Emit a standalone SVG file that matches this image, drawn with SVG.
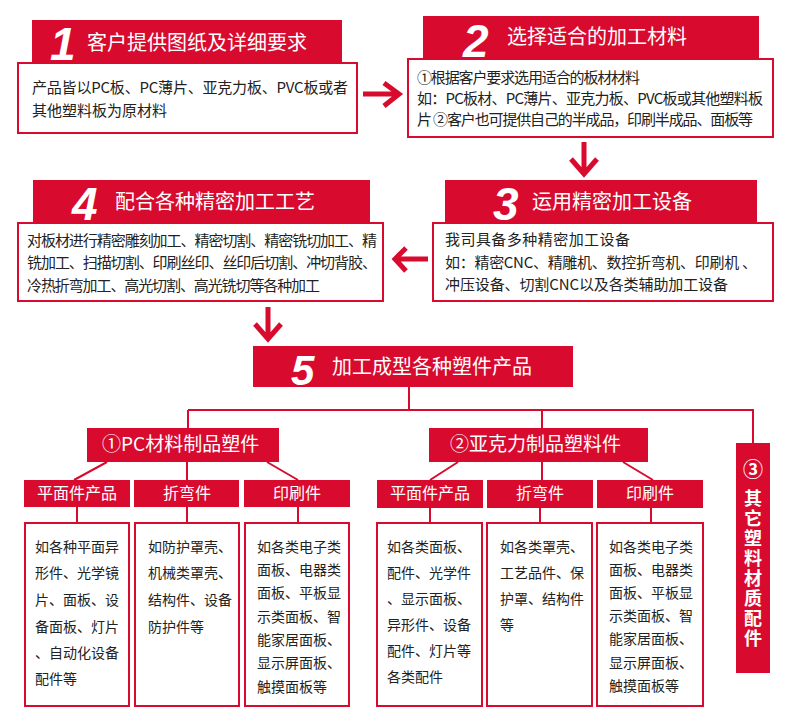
<svg xmlns="http://www.w3.org/2000/svg" width="790" height="721" viewBox="0 0 790 721">
<style>
.hd{fill:#d80b2f}
.bx{fill:#fff;stroke:#d80b2f;stroke-width:2}
.num{font-family:"Liberation Sans",Arial,sans-serif;font-weight:bold;font-style:italic;fill:#fff;font-size:46px}
.ht{font-family:"Noto Sans CJK SC","Noto Sans",sans-serif;fill:#fff;font-size:20px}
.st{font-family:"Noto Sans CJK SC","Noto Sans",sans-serif;fill:#fff;font-size:19px}
.vt{font-family:"Noto Sans CJK SC","Noto Sans",sans-serif;fill:#fff;font-size:18px;font-weight:bold}
.lt{font-family:"Noto Sans CJK SC","Noto Sans",sans-serif;fill:#fff;font-size:16px;text-anchor:middle}
.bt{font-family:"Noto Sans CJK SC","Noto Sans",sans-serif;fill:#222;font-size:15px}
.ct{font-family:"Noto Sans CJK SC","Noto Sans",sans-serif;fill:#222;font-size:14px}
.ln{stroke:#d80b2f;stroke-width:2;fill:none}
.ar{stroke:#d80b2f;stroke-width:5;fill:none}
</style>
<rect width="790" height="721" fill="#fff"/>
<g id="connectors">
<path class="ar" d="M363 94H399M384 83L399 94L384 106"/>
<path class="ar" d="M584 142V174M571 159L584 174L597 159"/>
<path class="ar" d="M428 259H395M406 248L395 259L406 271"/>
<path class="ar" d="M268 307V339M255 324L268 339L281 324"/>
<path class="ln" d="M409 387V410M188 410H753V443M188 410V428M542 410V428"/>
<path class="ln" d="M107 462L74 480M187 462V480M267 462L298 480"/>
<path class="ln" d="M458 462L430 480M542 462V480M623 462L653 480"/>
<path class="ln" d="M77 507V523M187 507V523M298 507V523M430 507V523M540 507V523M651 507V523"/>
</g>
<g id="step1">
<rect class="hd" x="32" y="20" width="310" height="42"/>
<rect class="bx" x="18" y="63" width="339" height="70"/>
<text class="num" x="50" y="60">1</text>
<text class="ht" x="87" y="50">客户提供图纸及详细要求</text>
<text class="bt" x="32" y="93" textLength="316">产品皆以PC板、PC薄片、亚克力板、PVC板或者</text>
<text class="bt" x="32" y="116">其他塑料板为原材料</text>
</g>
<g id="step2">
<rect class="hd" x="423" y="16" width="336" height="42"/>
<rect class="bx" x="408" y="59" width="365" height="78"/>
<text class="num" x="463" y="57">2</text>
<text class="ht" x="507" y="44">选择适合的加工材料</text>
<text class="bt" x="417" y="83" textLength="223">①根据客户要求选用适合的板材材料</text>
<text class="bt" x="417" y="104" textLength="346">如：PC板材、PC薄片、亚克力板、PVC板或其他塑料板</text>
<text class="bt" x="417" y="125" textLength="336">片 ②客户也可提供自己的半成品，印刷半成品、面板等</text>
</g>
<g id="step3">
<rect class="hd" x="445" y="180" width="312" height="43"/>
<rect class="bx" x="433" y="223" width="340" height="78"/>
<text class="num" x="493" y="220">3</text>
<text class="ht" x="532" y="209">运用精密加工设备</text>
<text class="bt" x="445" y="245" textLength="185">我司具备多种精密加工设备</text>
<text class="bt" x="445" y="268" textLength="312">如：精密CNC、精雕机、数控折弯机、印刷机 、</text>
<text class="bt" x="445" y="290" textLength="283">冲压设备、切割CNC以及各类辅助加工设备</text>
</g>
<g id="step4">
<rect class="hd" x="33" y="180" width="337" height="43"/>
<rect class="bx" x="18" y="223" width="365" height="78"/>
<text class="num" x="72" y="220">4</text>
<text class="ht" x="115" y="209">配合各种精密加工工艺</text>
<text class="bt" x="27" y="246" textLength="350">对板材进行精密雕刻加工、精密切割、精密铣切加工、精</text>
<text class="bt" x="27" y="268" textLength="350">铣加工、扫描切割、印刷丝印、丝印后切割、冲切背胶、</text>
<text class="bt" x="27" y="291" textLength="293">冷热折弯加工、高光切割、高光铣切等各种加工</text>
</g>
<g id="step5">
<rect class="hd" x="253" y="346" width="320" height="41"/>
<text class="num" x="291" y="385" style="font-size:42px">5</text>
<text class="ht" x="332" y="374">加工成型各种塑件产品</text>
</g>
<g id="pc">
<rect class="hd" x="87" y="428" width="192" height="34"/>
<text class="st" x="102" y="451">①PC材料制品塑件</text>
</g>
<g id="acrylic">
<rect class="hd" x="429" y="428" width="219" height="34"/>
<text class="st" x="450" y="451">②亚克力制品塑料件</text>
</g>
<g id="other">
<rect class="hd" x="736" y="443" width="34" height="230"/>
<text class="vt" x="753" y="477" style="font-size:20px;text-anchor:middle">③</text>
<text class="vt" x="753" y="489" writing-mode="vertical-rl" style="letter-spacing:2px">其它塑料材质配件</text>
</g>
<g id="pc-flat">
<rect class="hd" x="24" y="480" width="106" height="27"/>
<text class="lt" x="77" y="499">平面件产品</text>
<rect class="bx" x="25" y="523" width="104" height="183"/>
<text class="ct"><tspan x="35" y="552">如各种平面异</tspan><tspan x="35" y="578">形件、光学镜</tspan><tspan x="35" y="605">片、面板、设</tspan><tspan x="35" y="632">备面板、灯片</tspan><tspan x="35" y="658">、自动化设备</tspan><tspan x="35" y="684">配件等</tspan></text>
</g>
<g id="pc-bend">
<rect class="hd" x="134" y="480" width="105" height="27"/>
<text class="lt" x="187" y="499">折弯件</text>
<rect class="bx" x="135" y="523" width="104" height="183"/>
<text class="ct"><tspan x="148" y="552">如防护罩壳、</tspan><tspan x="148" y="578">机械类罩壳、</tspan><tspan x="148" y="605">结构件、设备</tspan><tspan x="148" y="632">防护件等</tspan></text>
</g>
<g id="pc-print">
<rect class="hd" x="244" y="480" width="106" height="27"/>
<text class="lt" x="297" y="499">印刷件</text>
<rect class="bx" x="245" y="523" width="104" height="183"/>
<text class="ct"><tspan x="257" y="552">如各类电子类</tspan><tspan x="257" y="575">面板、电器类</tspan><tspan x="257" y="598">面板、平板显</tspan><tspan x="257" y="622">示类面板、智</tspan><tspan x="257" y="645">能家居面板、</tspan><tspan x="257" y="668">显示屏面板、</tspan><tspan x="257" y="692">触摸面板等</tspan></text>
</g>
<g id="ac-flat">
<rect class="hd" x="377" y="480" width="106" height="28"/>
<text class="lt" x="430" y="499">平面件产品</text>
<rect class="bx" x="377" y="523" width="105" height="183"/>
<text class="ct"><tspan x="387" y="552">如各类面板、</tspan><tspan x="387" y="578">配件、光学件</tspan><tspan x="387" y="604">、显示面板、</tspan><tspan x="387" y="630">异形件、设备</tspan><tspan x="387" y="656">配件、灯片等</tspan><tspan x="387" y="682">各类配件</tspan></text>
</g>
<g id="ac-bend">
<rect class="hd" x="487" y="480" width="106" height="28"/>
<text class="lt" x="540" y="499">折弯件</text>
<rect class="bx" x="487" y="523" width="105" height="183"/>
<text class="ct"><tspan x="500" y="552">如各类罩壳、</tspan><tspan x="500" y="578">工艺品件、保</tspan><tspan x="500" y="604">护罩、结构件</tspan><tspan x="500" y="630">等</tspan></text>
</g>
<g id="ac-print">
<rect class="hd" x="597" y="480" width="106" height="28"/>
<text class="lt" x="650" y="499">印刷件</text>
<rect class="bx" x="597" y="523" width="106" height="183"/>
<text class="ct"><tspan x="609" y="552">如各类电子类</tspan><tspan x="609" y="575">面板、电器类</tspan><tspan x="609" y="598">面板、平板显</tspan><tspan x="609" y="621">示类面板、智</tspan><tspan x="609" y="644">能家居面板、</tspan><tspan x="609" y="668">显示屏面板、</tspan><tspan x="609" y="691">触摸面板等</tspan></text>
</g>
</svg>
